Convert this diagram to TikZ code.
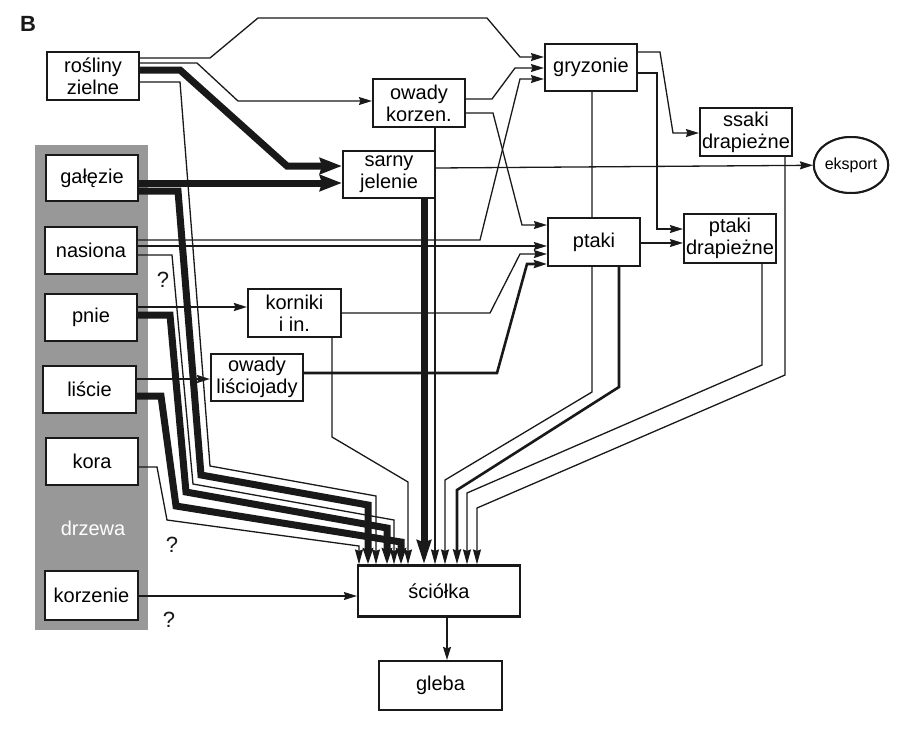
\documentclass[tikz,border=0pt]{standalone}
\usepackage{fontspec}
\setmainfont{Liberation Sans}
\usetikzlibrary{arrows.meta,shapes.geometric}
\definecolor{ink}{rgb}{0.1,0.1,0.1}
\definecolor{panel}{RGB}{152,152,152}
\begin{document}
\begin{tikzpicture}[x=1pt,y=-1pt,
  box/.style={draw=ink,line width=2.2pt,fill=white,inner sep=0pt,align=center,
    font=\fontsize{20}{22}\selectfont,minimum width=92pt,minimum height=48pt},
  lthin/.style={draw=ink,line width=1.3pt},
  lmed/.style={draw=ink,line width=2.6pt},
  lthick/.style={draw=ink,line width=7pt},
  arr/.style={-{Stealth[length=13pt,width=8pt,inset=1.5pt]}},
  adown/.style={-{Stealth[length=15pt,width=8pt,inset=1.5pt]}},
  adownk/.style={-{Stealth[length=16pt,width=10pt,inset=1.5pt]}},
  abig/.style={-{Stealth[length=22pt,width=16pt,inset=2pt]}},
  abigd/.style={-{Stealth[length=24pt,width=14pt,inset=2pt]}},
  qmark/.style={font=\fontsize{22}{22}\selectfont,text=ink},
  line join=miter
]
\useasboundingbox (0,0) rectangle (908,737);
\fill[white] (0,0) rectangle (908,737);

% gray panel "drzewa"
\fill[panel] (35,145) rectangle (148,630);
\node[font=\fontsize{20}{20}\selectfont,text=white] (drzewa) at (93,528) {drzewa};

% label B
\node[font=\bfseries\fontsize{22}{22}\selectfont,text=ink] (lblB) at (28,24) {B};

% nodes (placed first to define anchors; redrawn later on top)
\begin{scope}[every node/.style={box}]
\node (rosliny)  at (93,76)      {rośliny\\zielne};
\node (owadyk)   at (419,103)    {owady\\korzen.};
\node (gryzonie) at (591,67.5)   [minimum height=47pt] {gryzonie};
\node (ssaki)    at (746,132)    {ssaki\\drapieżne};
\node (sarny)    at (389,174.5)  [minimum height=47pt] {sarny\\jelenie};
\node (galezie)  at (92,178)     [minimum height=46pt] {gałęzie};
\node (nasiona)  at (91,250.5)   [minimum height=47pt] {nasiona};
\node (pnie)     at (91,317.5)   [minimum height=47pt] {pnie};
\node (liscie)   at (89.5,389.5) [minimum width=93pt,minimum height=47pt] {liście};
\node (kora)     at (92,461.5)   [minimum height=47pt] {kora};
\node (korzenie) at (91.5,595.5) [minimum width=93pt,minimum height=49pt] {korzenie};
\node (korniki)  at (294.5,313)  [minimum width=93pt] {korniki\\i in.};
\node (owadyl)   at (257,377.5)  [minimum height=47pt] {owady\\liściojady};
\node (ptaki)    at (594,242)    {ptaki};
\node (ptakid)   at (730,238.5)  [minimum height=49pt] {ptaki\\drapieżne};
\node (sciolka)  at (439,591)    [minimum width=162pt,minimum height=51pt] {ściółka};
\node (gleba)    at (440.5,685.5) [minimum width=123pt,minimum height=49pt] {gleba};
\end{scope}
\node[draw=ink,line width=2pt,fill=white,ellipse,inner sep=0pt,minimum width=68pt,
  minimum height=56pt,font=\fontsize{16}{16}\selectfont] (eksport) at (851,165) {eksport};

% ---------- connectors ----------
% rosliny
\draw[lthin,arr] (rosliny.east |- 0,58) -- (210,58) -- (258,18) -- (487,18) -- (520,57) -- (gryzonie.west |- 0,57);
\draw[lthin,arr] (rosliny.east |- 0,63) -- (197,63) -- (238,101) -- (owadyk.west |- 0,101);
\draw[lthick,abig] (rosliny.east |- 0,70) -- (180,70) -- (287,166) -- (sarny.west |- 0,166);
% galezie
\draw[lthick,abig] (galezie.east |- 0,183) -- (sarny.west |- 0,183);
% nasiona
\draw[lthin,arr] (nasiona.east |- 0,240) -- (480,240) -- (520,79) -- (gryzonie.west |- 0,79);
\draw[lthin,arr] (nasiona.east |- 0,246) -- (ptaki.west |- 0,246);

% bundle to sciolka (thin ones)
\draw[lthin,adown] (rosliny.east |- 0,82) -- (180,82) -- (210,466) -- (376,496) -- (376,0 |- sciolka.north);
\draw[lthin,adown] (nasiona.east |- 0,255) -- (172,255) -- (193,484) -- (394,520) -- (394,0 |- sciolka.north);
\draw[lthin,adown] (kora.east |- 0,467) -- (157,467) -- (167,520) -- (359,546) -- (359,0 |- sciolka.north);
% bundle (thick ones)
\draw[lthick,adownk] (galezie.east |- 0,191) -- (178,191) -- (201,475) -- (368,505) -- (368,0 |- sciolka.north);
\draw[lthick,adownk] (pnie.east |- 0,315) -- (170,315) -- (186,492) -- (387,528) -- (387,0 |- sciolka.north);
\draw[lthick,adownk] (liscie.east |- 0,396) -- (161,396) -- (176,506) -- (401,542) -- (401,0 |- sciolka.north);

% pnie, liscie to insects
\draw[draw=ink,line width=1.8pt,arr] (pnie.east |- 0,307) -- (korniki.west |- 0,307);
\draw[draw=ink,line width=1.8pt,arr] (liscie.east |- 0,379) -- (owadyl.west |- 0,379);

% korzenie
\draw[lthin,arr] (korzenie.east |- 0,596) -- (sciolka.west |- 0,596);

% korniki
\draw[lthin,arr] (korniki.east |- 0,313) -- (490,313) -- (520,254) -- (ptaki.west |- 0,254);
\draw[lthin,adown] (332,0 |- korniki.south) -- (332,437) -- (408,482) -- (408,0 |- sciolka.north);

% owady lisciojady
\draw[lmed,arr] (owadyl.east |- 0,373) -- (497,373) -- (527,264) -- (ptaki.west |- 0,264);

% owady korzen.
\draw[lthin,arr] (owadyk.east |- 0,99) -- (492,99) -- (515,68) -- (gryzonie.west |- 0,68);
\draw[lthin,arr] (owadyk.east |- 0,113) -- (493,113) -- (522,225) -- (ptaki.west |- 0,225);
\draw[lthin,adown] (435,0 |- owadyk.south) -- (435,0 |- sciolka.north);

% sarny
\draw[lthin,arr] (sarny.east |- 0,168) -- (eksport);
\draw[lthick,abigd] (424,0 |- sarny.south) -- (424,0 |- sciolka.north);

% gryzonie
\draw[lthin,arr] (gryzonie.east |- 0,52) -- (660,52) -- (673,133) -- (ssaki.west |- 0,133);
\draw[lthin,arr] (gryzonie.east |- 0,73) -- (657,73) -- (657,229) -- (ptakid.west |- 0,229);
\draw[lthin,adown] (592,0 |- gryzonie.south) -- (592,392) -- (445,480) -- (445,0 |- sciolka.north);

% ptaki
\draw[lthin,arr] (ptaki.east |- 0,243) -- (ptakid.west |- 0,243);
\draw[lmed,adown] (619,0 |- ptaki.south) -- (619,387) -- (457,490) -- (457,0 |- sciolka.north);

% predators
\draw[lthin,adown] (762,0 |- ptakid.south) -- (762,365) -- (467,493) -- (467,0 |- sciolka.north);
\draw[lthin,adown] (785,0 |- ssaki.south) -- (785,375) -- (477,508) -- (477,0 |- sciolka.north);

% sciolka -> gleba
\draw[lthin,arr] (447,0 |- sciolka.south) -- (447,0 |- gleba.north);

% ---------- boxes on top ----------
\begin{scope}[every node/.style={box}]
\node at (rosliny)  {rośliny\\zielne};
\node at (owadyk)   {owady\\korzen.};
\node at (gryzonie) [minimum height=47pt] {gryzonie};
\node at (ssaki)    {ssaki\\drapieżne};
\node at (sarny)    [minimum height=47pt] {sarny\\jelenie};
\node at (galezie)  [minimum height=46pt] {gałęzie};
\node at (nasiona)  [minimum height=47pt] {nasiona};
\node at (pnie)     [minimum height=47pt] {pnie};
\node at (liscie)   [minimum width=93pt,minimum height=47pt] {liście};
\node at (kora)     [minimum height=47pt] {kora};
\node at (korzenie) [minimum width=93pt,minimum height=49pt] {korzenie};
\node at (korniki)  [minimum width=93pt] {korniki\\i in.};
\node at (owadyl)   [minimum height=47pt] {owady\\liściojady};
\node at (ptaki)    {ptaki};
\node at (ptakid)   [minimum height=49pt] {ptaki\\drapieżne};
\node at (sciolka)  [minimum width=162pt,minimum height=51pt] {ściółka};
\node at (gleba)    [minimum width=123pt,minimum height=49pt] {gleba};
\end{scope}
\node[draw=ink,line width=2pt,fill=white,ellipse,inner sep=0pt,minimum width=68pt,
  minimum height=56pt,font=\fontsize{16}{16}\selectfont] at (eksport) {eksport};

% question marks
\node[qmark] (q1) at (163,280) {?};
\node[qmark] (q2) at (172,545) {?};
\node[qmark] (q3) at (169,620) {?};
\end{tikzpicture}
\end{document}
